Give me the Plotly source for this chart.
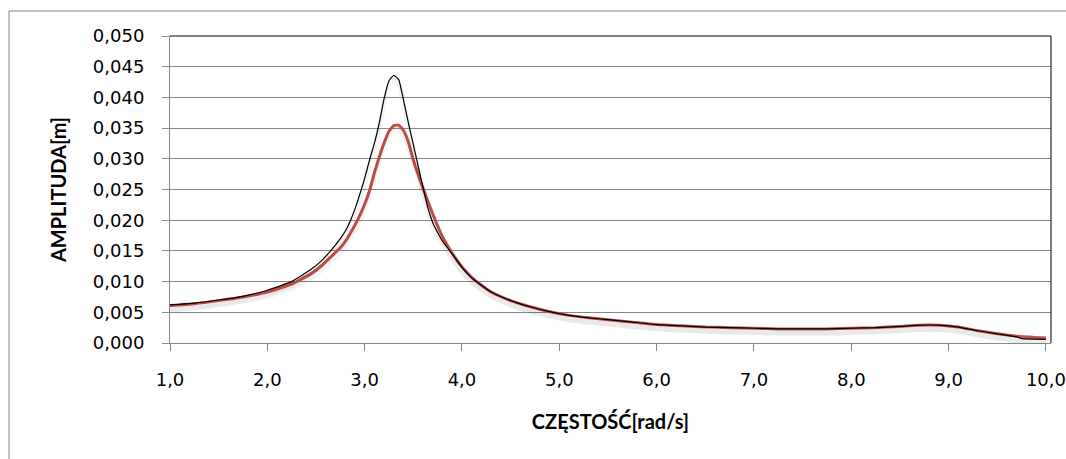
import plotly.graph_objects as go

# Frequency response: amplitude vs. excitation frequency
freq_black = [1.0, 1.25, 1.5, 1.75, 2.0, 2.25, 2.45, 2.55, 2.65, 2.75, 2.8, 2.85, 2.9,
              2.95, 3.0, 3.05, 3.1, 3.15, 3.2, 3.25, 3.3, 3.35, 3.4, 3.45, 3.5, 3.55,
              3.6, 3.65, 3.7, 3.75, 3.8, 3.9, 4.0, 4.1, 4.2, 4.3, 4.5, 4.7, 4.9, 5.1,
              5.3, 5.5, 5.75, 6.0, 6.25, 6.5, 6.75, 7.0, 7.25, 7.5, 7.75, 8.0, 8.25,
              8.5, 8.7, 8.9, 9.1, 9.3, 9.5, 9.7, 9.75, 10.0]
amp_black = [0.0062, 0.0065, 0.0070, 0.0076, 0.0086, 0.0100, 0.0120, 0.0133, 0.0150,
             0.0170, 0.0182, 0.0198, 0.0218, 0.0242, 0.0268, 0.0298, 0.0325, 0.0358,
             0.0398, 0.0427, 0.0436, 0.0429, 0.0395, 0.0358, 0.0323, 0.0288, 0.0253,
             0.0220, 0.0196, 0.0180, 0.0166, 0.0145, 0.0123, 0.0106, 0.0094, 0.0083,
             0.0069, 0.0059, 0.0051, 0.0045, 0.0041, 0.0038, 0.0034, 0.0030, 0.0028,
             0.0026, 0.0025, 0.0024, 0.0023, 0.0023, 0.0023, 0.0024, 0.0025, 0.0027,
             0.0029, 0.0029, 0.0026, 0.0020, 0.0015, 0.0010, 0.0007, 0.0006]

freq_red = [1.0, 1.25, 1.5, 1.75, 2.0, 2.25, 2.45, 2.55, 2.65, 2.75, 2.8, 2.85, 2.9,
            2.95, 3.0, 3.05, 3.1, 3.15, 3.2, 3.25, 3.3, 3.35, 3.4, 3.45, 3.5, 3.6,
            3.7, 3.8, 3.9, 4.0, 4.1, 4.2, 4.3, 4.5, 4.7, 4.9, 5.1, 5.3, 5.5, 5.75,
            6.0, 6.25, 6.5, 6.75, 7.0, 7.25, 7.5, 7.75, 8.0, 8.25, 8.5, 8.7, 8.9,
            9.1, 9.3, 9.5, 9.7, 10.0]
amp_red = [0.0061, 0.0064, 0.0069, 0.0075, 0.0083, 0.0096, 0.0113, 0.0125, 0.0140,
           0.0155, 0.0165, 0.0178, 0.0192, 0.0208, 0.0226, 0.0248, 0.0277, 0.0303,
           0.0326, 0.0345, 0.0354, 0.0355, 0.0346, 0.0327, 0.0298, 0.0252, 0.0210,
           0.0173, 0.0146, 0.0124, 0.0107, 0.0094, 0.0083, 0.0069, 0.0059, 0.0051,
           0.0045, 0.0041, 0.0038, 0.0034, 0.0030, 0.0028, 0.0026, 0.0025, 0.0024,
           0.0023, 0.0023, 0.0023, 0.0024, 0.0025, 0.0027, 0.0029, 0.0029, 0.0026,
           0.0020, 0.0015, 0.0011, 0.0008]

y_ticks = [0.000, 0.005, 0.010, 0.015, 0.020, 0.025, 0.030, 0.035, 0.040, 0.045, 0.050]
x_ticks = [1.0, 2.0, 3.0, 4.0, 5.0, 6.0, 7.0, 8.0, 9.0, 10.0]

GRID = "#868686"
Y_MAX = 0.050
# shadow axis: same scale, shifted a few pixels down
SHIFT = 0.0007

fig = go.Figure()

# soft drop shadows under both curves
for fx, fy in ((freq_red, amp_red), (freq_black, amp_black)):
    fig.add_trace(go.Scatter(x=fx, y=fy, mode="lines", yaxis="y2",
                             line=dict(color="rgba(0,0,0,0.045)", width=5,
                                       shape="spline", smoothing=0.4),
                             hoverinfo="skip", showlegend=False))

fig.add_trace(go.Scatter(x=freq_red, y=amp_red, mode="lines",
                         line=dict(color="#C0504D", width=3,
                                   shape="spline", smoothing=0.4),
                         showlegend=False))
fig.add_trace(go.Scatter(x=freq_black, y=amp_black, mode="lines",
                         line=dict(color="#000000", width=1.2,
                                   shape="spline", smoothing=0.4),
                         showlegend=False))

font_ticks = dict(family="DejaVu Sans", size=18, color="#000000")
font_title = dict(family="Lato", size=20, color="#000000")

fig.update_layout(
    width=1066, height=459,
    margin=dict(l=170, r=15, t=36, b=116),
    paper_bgcolor="white", plot_bgcolor="white",
    separators=",.",
    xaxis=dict(range=[1.0, 10.052], tickvals=x_ticks, tickformat=".1f",
               showgrid=False, zeroline=False, automargin=False,
               showline=True, linecolor=GRID, linewidth=1,
               ticks="outside", ticklen=7, tickcolor=GRID, tickwidth=1,
               tickfont=font_ticks, ticklabelstandoff=13,
               title=dict(text="<b>CZĘSTOŚĆ[rad/s]</b>", font=font_title,
                          standoff=26)),
    yaxis=dict(range=[0, Y_MAX], tickvals=y_ticks, tickformat=".3f",
               showgrid=True, gridcolor=GRID, gridwidth=1, zeroline=False,
               automargin=False,
               showline=True, linecolor=GRID, linewidth=1,
               ticks="outside", ticklen=7, tickcolor=GRID, tickwidth=1,
               tickfont=font_ticks, ticklabelstandoff=14,
               title=dict(text="<b>AMPLITUDA[m]</b>", font=font_title,
                          standoff=20)),
    yaxis2=dict(overlaying="y", range=[SHIFT, Y_MAX + SHIFT], visible=False),
    shapes=[
        # chart area frame
        dict(type="rect", xref="paper", yref="paper",
             x0=(9 - 170) / 881, x1=1.3, y0=-0.6, y1=1 + 25 / 307,
             line=dict(color=GRID, width=1), layer="below"),
        # plot area border (top and right)
        dict(type="line", xref="paper", yref="paper", x0=0, x1=1, y0=1, y1=1,
             line=dict(color="#000000", width=1)),
        dict(type="line", xref="paper", yref="paper", x0=1, x1=1, y0=0, y1=1,
             line=dict(color="#000000", width=1)),
    ],
)

fig.write_html("out.html")
